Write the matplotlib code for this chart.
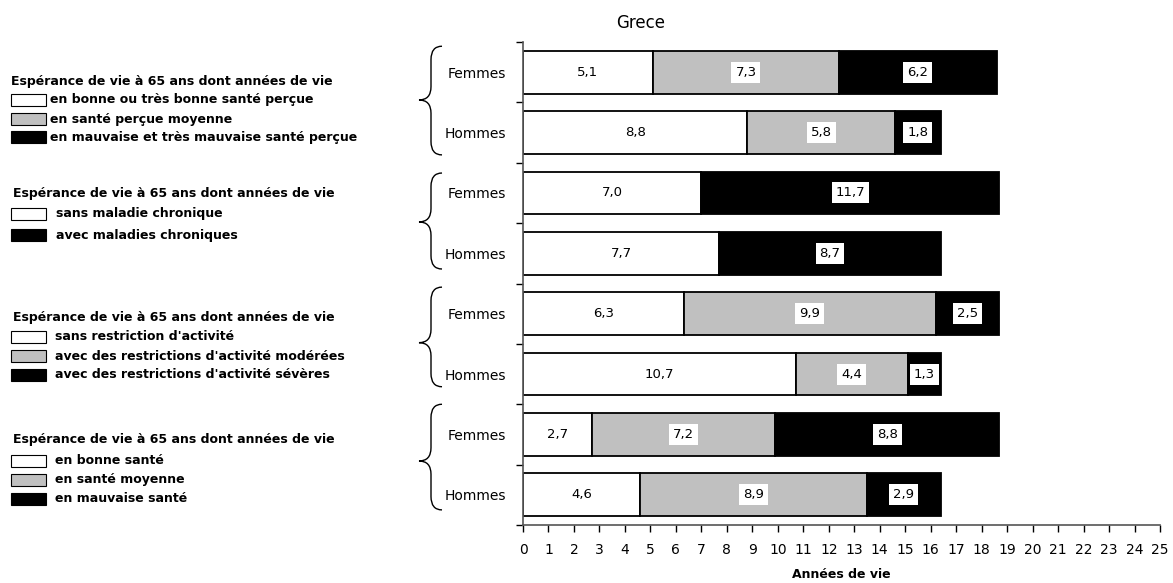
import numpy as np
import matplotlib.pyplot as plt
from matplotlib.path import Path
from matplotlib.patches import PathPatch, Rectangle
import matplotlib.transforms as mtransforms

plt.rcParams['font.family'] = ['DejaVu Sans']

# --- data ---
bar_labels = ["Femmes", "Hommes"] * 4
seg_white = [5.1, 8.8, 7.0, 7.7, 6.3, 10.7, 2.7, 4.6]
seg_gray = [7.3, 5.8, 0.0, 0.0, 9.9, 4.4, 7.2, 8.9]
seg_black = [6.2, 1.8, 11.7, 8.7, 2.5, 1.3, 8.8, 2.9]

legend_title = "Espérance de vie à 65 ans dont années de vie"
legend_items = [
    ["en bonne ou très bonne santé perçue", "en santé perçue moyenne",
     "en mauvaise et très mauvaise santé perçue"],
    ["sans maladie chronique", "avec maladies chroniques"],
    ["sans restriction d'activité", "avec des restrictions d'activité modérées",
     "avec des restrictions d'activité sévères"],
    ["en bonne santé", "en santé moyenne", "en mauvaise santé"],
]
legend_colors = [
    ["white", "#c0c0c0", "black"],
    ["white", "black"],
    ["white", "#c0c0c0", "black"],
    ["white", "#c0c0c0", "black"],
]

W, H = 1173, 583
fig = plt.figure(figsize=(W / 100, H / 100), dpi=100)
ax = fig.add_axes([523 / W, 1 - 525 / H, (1160 - 523) / W, (525 - 42) / H])

y = np.arange(len(bar_labels))
bh = 0.71
white = np.array(seg_white)
gray = np.array(seg_gray)
black = np.array(seg_black)

ax.barh(y, white, height=bh, color="white", edgecolor="black", linewidth=1.3)
g_mask = gray > 0
ax.barh(y[g_mask], gray[g_mask], left=white[g_mask], height=bh,
        color="#c0c0c0", edgecolor="black", linewidth=1.3)
ax.barh(y, black, left=white + gray, height=bh, color="black",
        edgecolor="black", linewidth=1.3)


def fmt(v):
    return f"{v:.1f}".replace(".", ",")


for i in range(len(y)):
    ax.text(white[i] / 2, y[i], fmt(white[i]), ha="center", va="center",
            fontsize=9.5)
    if gray[i] > 0:
        ax.text(white[i] + gray[i] / 2, y[i], fmt(gray[i]), ha="center",
                va="center", fontsize=9.5,
                bbox=dict(boxstyle="square,pad=0.3", fc="white", ec="none"))
    ax.text(white[i] + gray[i] + black[i] / 2, y[i], fmt(black[i]),
            ha="center", va="center", fontsize=9.5,
            bbox=dict(boxstyle="square,pad=0.3", fc="white", ec="none"))

ax.set_xlim(0, 25)
ax.set_ylim(len(y) - 0.5, -0.5)
ax.set_xticks(np.arange(0, 26, 1))
ax.tick_params(axis="x", labelsize=10, length=5, width=1, pad=8)
ax.set_yticks(y)
ax.set_yticklabels(bar_labels, fontsize=10)
ax.tick_params(axis="y", which="major", length=0, pad=12)
ax.set_yticks(np.arange(-0.5, len(y), 1), minor=True)
ax.tick_params(axis="y", which="minor", length=5, width=1)
for s in ["top", "right"]:
    ax.spines[s].set_visible(False)
for s in ["left", "bottom"]:
    ax.spines[s].set_color("#555555")
    ax.spines[s].set_linewidth(1.2)

ax.set_xlabel("Années de vie", fontsize=9, fontweight="bold", labelpad=8)
fig.text(641 / W, 1 - 23 / H, "Grece", ha="center", va="center", fontsize=12)

# curly braces left of each group (top, tip, bottom in bar units)
brace_top = [-0.43, 1.67, 3.56, 5.5]
brace_tip = [0.46, 2.48, 4.48, 6.44]
brace_bot = [1.37, 3.26, 5.21, 7.25]
trans = mtransforms.blended_transform_factory(fig.transFigure, ax.transData)
xl, xm, xr = 419 / W, 431 / W, 442 / W
r = 0.22
for yt, ym, yb in zip(brace_top, brace_tip, brace_bot):
    verts = [(xr, yt), (xm, yt), (xm, yt + r), (xm, ym - r),
             (xm, ym), (xl, ym), (xm, ym), (xm, ym + r),
             (xm, yb - r), (xm, yb), (xr, yb)]
    codes = [Path.MOVETO, Path.CURVE3, Path.CURVE3, Path.LINETO,
             Path.CURVE3, Path.CURVE3, Path.CURVE3, Path.CURVE3,
             Path.LINETO, Path.CURVE3, Path.CURVE3]
    ax.add_patch(PathPatch(Path(verts, codes), fc="none", ec="black",
                           lw=1, transform=trans, clip_on=False))

# legend blocks on the left
title_y = [81, 194, 317, 439]
title_x = [11, 13, 13, 13]
item_y = [[100, 119, 137], [214, 235], [337, 356, 375], [461, 480, 499]]
text_x = [50, 56, 55, 55]
for g in range(4):
    fig.text(title_x[g] / W, 1 - title_y[g] / H, legend_title, ha="left",
             va="center", fontsize=9, fontweight="bold")
    for lab, col, yy in zip(legend_items[g], legend_colors[g], item_y[g]):
        fig.add_artist(Rectangle((11 / W, 1 - (yy + 6) / H), 35 / W, 12 / H,
                                 transform=fig.transFigure, fc=col,
                                 ec="black", lw=0.8))
        fig.text(text_x[g] / W, 1 - yy / H, lab, ha="left", va="center",
                 fontsize=9, fontweight="bold")

fig.savefig("out.png", dpi=100)
